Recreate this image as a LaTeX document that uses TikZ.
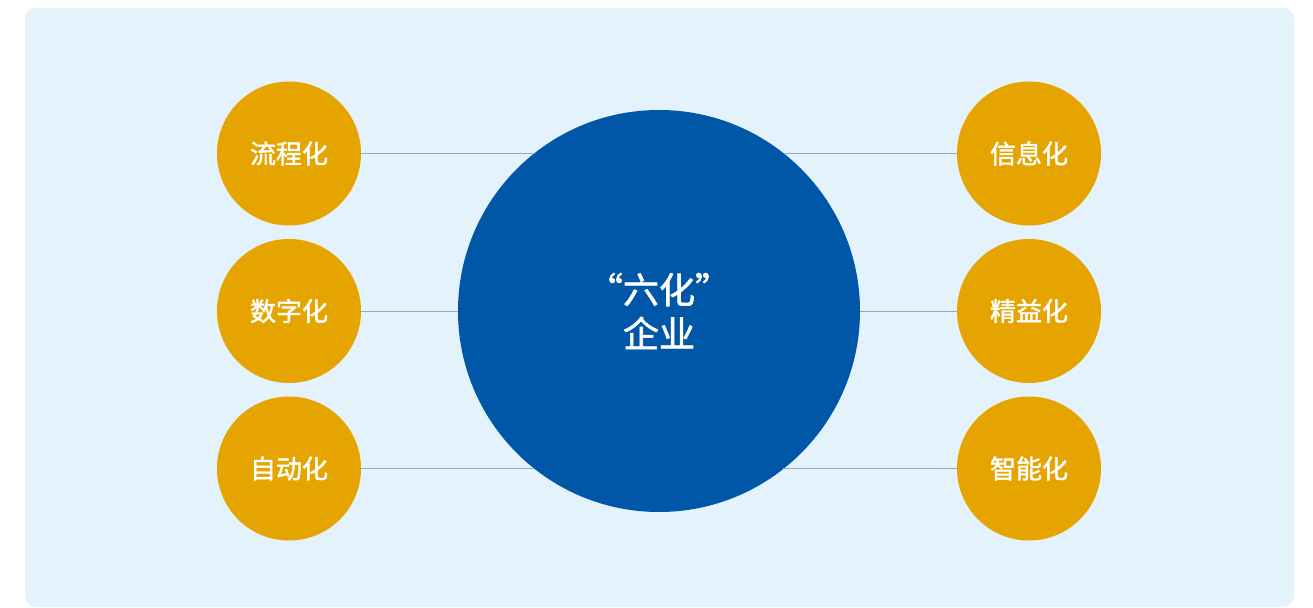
\documentclass[tikz,border=0pt]{standalone}
\usepackage{fontspec}
\newfontfamily\cjk{Noto Sans CJK SC}[FakeBold=1.6]
\usepackage{tikz}
\usetikzlibrary{positioning}
\definecolor{panelblue}{HTML}{E3F2FB}
\definecolor{hubblue}{HTML}{0057A7}
\definecolor{gold}{HTML}{E6A400}
\definecolor{linkgray}{HTML}{9AA8B4}

\begin{document}
\begin{tikzpicture}[on grid,node distance=3.15cm and 7.4cm,
                    every node/.style={outer sep=0pt,font=\cjk,text=white}]
  \tikzstyle{hub}=[circle,fill=hubblue,minimum size=8.04cm,align=center,
                   font=\cjk\fontsize{20.5pt}{25pt}\selectfont]
  \tikzstyle{item}=[circle,fill=gold,minimum size=2.88cm,
                    font=\cjk\fontsize{14.8pt}{17pt}\selectfont]
  \tikzstyle{link}=[draw=linkgray,line width=0.55pt]

  \useasboundingbox (0,0) rectangle (26.26,-12.16);
  \fill[panelblue,rounded corners=0.22cm] (0.5,-0.16) rectangle (25.88,-12.14);

  \node[hub]         (C)  at (13.18,-6.22)    {“六化”\\企业};
  \node[item]        (L2) [left=of C]         {数字化};
  \node[item]        (L1) [above=of L2]       {流程化};
  \node[item]        (L3) [below=of L2]       {自动化};
  \node[item]        (R2) [right=of C]        {精益化};
  \node[item]        (R1) [above=of R2]       {信息化};
  \node[item]        (R3) [below=of R2]       {智能化};

  \path[link] (L1.east) edge (L1.east -| C.128.4)
              (L2.east) edge (C.west)
              (L3.east) edge (L3.east -| C.231.6)
              (R1.west) edge (R1.west -| C.51.6)
              (R2.west) edge (C.east)
              (R3.west) edge (R3.west -| C.308.4);

\end{tikzpicture}
\end{document}
